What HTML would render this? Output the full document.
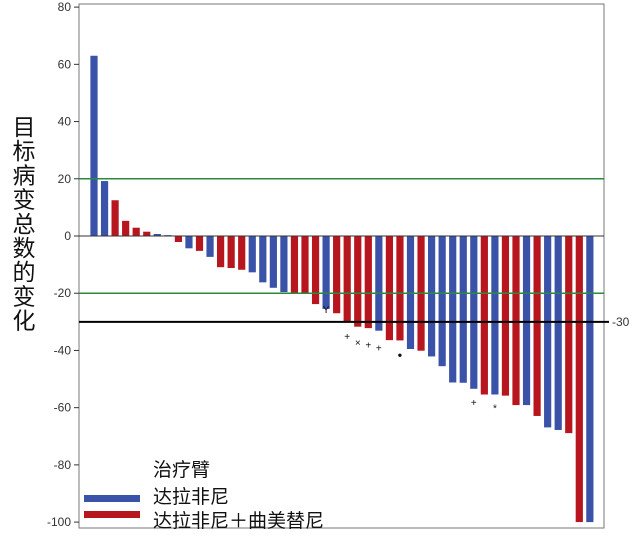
<!DOCTYPE html>
<html><head><meta charset="utf-8"><style>
body{margin:0;background:#fff;}
svg{display:block;font-family:"Liberation Sans","Noto Sans CJK SC",sans-serif;}
</style></head><body>
<svg id="chart" width="632" height="538">
<g id="plot"></g>
</svg>
<script>
const values=[63,19.2,12.5,5.3,2.9,1.5,0.7,0.3,-2.1,-4.3,-5.2,-7.3,-10.9,-11.2,-11.8,-12.7,-16.2,-18.1,-19.6,-20,-20,-23.8,-25.5,-27,-30,-31.7,-32.2,-33.1,-36.4,-36.5,-39.5,-40.1,-42.1,-45.5,-51.2,-51.3,-53.4,-55.4,-55.4,-55.8,-59.1,-59.1,-62.9,-66.9,-67.8,-68.9,-100,-100];
const arms=["B","B","R","R","R","R","B","B","R","B","R","B","R","R","R","B","B","B","B","R","R","R","B","R","R","R","R","B","R","R","B","R","B","B","B","B","B","R","B","R","R","B","R","B","B","R","R","B"];
const markerIdx=[22,24,25,26,27,29,36,38];
const markerSym=["Y","+","×","+","+","●","+","*"];
const markerVal=[-25.5,-35,-37,-38,-39,-41,-58,-60];
const yTicks=[80,60,40,20,0,-20,-40,-60,-80,-100];
const refLines=[20,-20];
const NS="http://www.w3.org/2000/svg";
const svg=document.getElementById('plot');
const L=79,R=604,T=4;
const y=v=>236-v*2.861;
const x=i=>94+i*10.55;
function el(t,a,txt){const e=document.createElementNS(NS,t);for(const k in a)e.setAttribute(k,a[k]);if(txt!==undefined)e.textContent=txt;svg.appendChild(e);return e;}
let b=el('rect',{x:L,y:T,width:R-L,height:528-T,fill:'#fff',stroke:'#777','stroke-width':1});


yTicks.forEach(v=>{
 const t=el('line',{x1:L-5,x2:L,y1:y(v),y2:y(v),stroke:'#333'});
 
 
 const l=el('text',{x:L-8,y:y(v)+4,'text-anchor':'end','font-size':12,fill:'#333'},v);
 
 
});
values.forEach((v,i)=>{
 const r=el('rect',{x:x(i)-3.6,width:7.2,y:Math.min(y(v),y(0)),height:Math.abs(y(v)-y(0)),fill:arms[i]=='B'?'#3a52a8':'#b8161f'});
 
 
});
let z=el('line',{x1:L,x2:R,y1:y(0),y2:y(0),stroke:'#333','stroke-width':1});


refLines.forEach(v=>{
 const g=el('line',{x1:L,x2:R,y1:y(v),y2:y(v),stroke:'#2a8a3e','stroke-width':1.5});
 
 
});
let k=el('line',{x1:L,x2:R+5,y1:y(-30),y2:y(-30),stroke:'#000','stroke-width':2});


let kl=el('text',{x:612,y:y(-30)+4,'font-size':12,fill:'#333'},'-30');


markerIdx.forEach((idx,j)=>{
 const m=el('text',{x:x(idx),y:y(markerVal[j])+4,'text-anchor':'middle','font-size':markerSym[j]=='●'?8:10,fill:'#111'},markerSym[j]);
 
 
});
let lb=el('rect',{x:L+0.5,y:455,width:272,height:72.5,fill:'#fff'});


let bl=el('line',{x1:L,x2:140,y1:528,y2:528,stroke:'#777'});


let lt=el('text',{x:153,y:476,'font-size':19,fill:'#111'},'治疗臂');


let s1=el('rect',{x:84,y:495,width:56,height:7,fill:'#3a52a8'});


let t1=el('text',{x:153,y:503,'font-size':19,fill:'#111'},'达拉非尼');


let s2=el('rect',{x:84,y:511,width:56,height:7,fill:'#b8161f'});


let t2=el('text',{x:153,y:527,'font-size':19,fill:'#111'},'达拉非尼＋曲美替尼');


const title="目标病变总数的变化";
[...title].forEach((c,i)=>{
 const e=el('text',{x:24,y:135+i*24.2,'text-anchor':'middle','font-size':23,fill:'#111'},c);
 
 
});
</script>
</body></html>
